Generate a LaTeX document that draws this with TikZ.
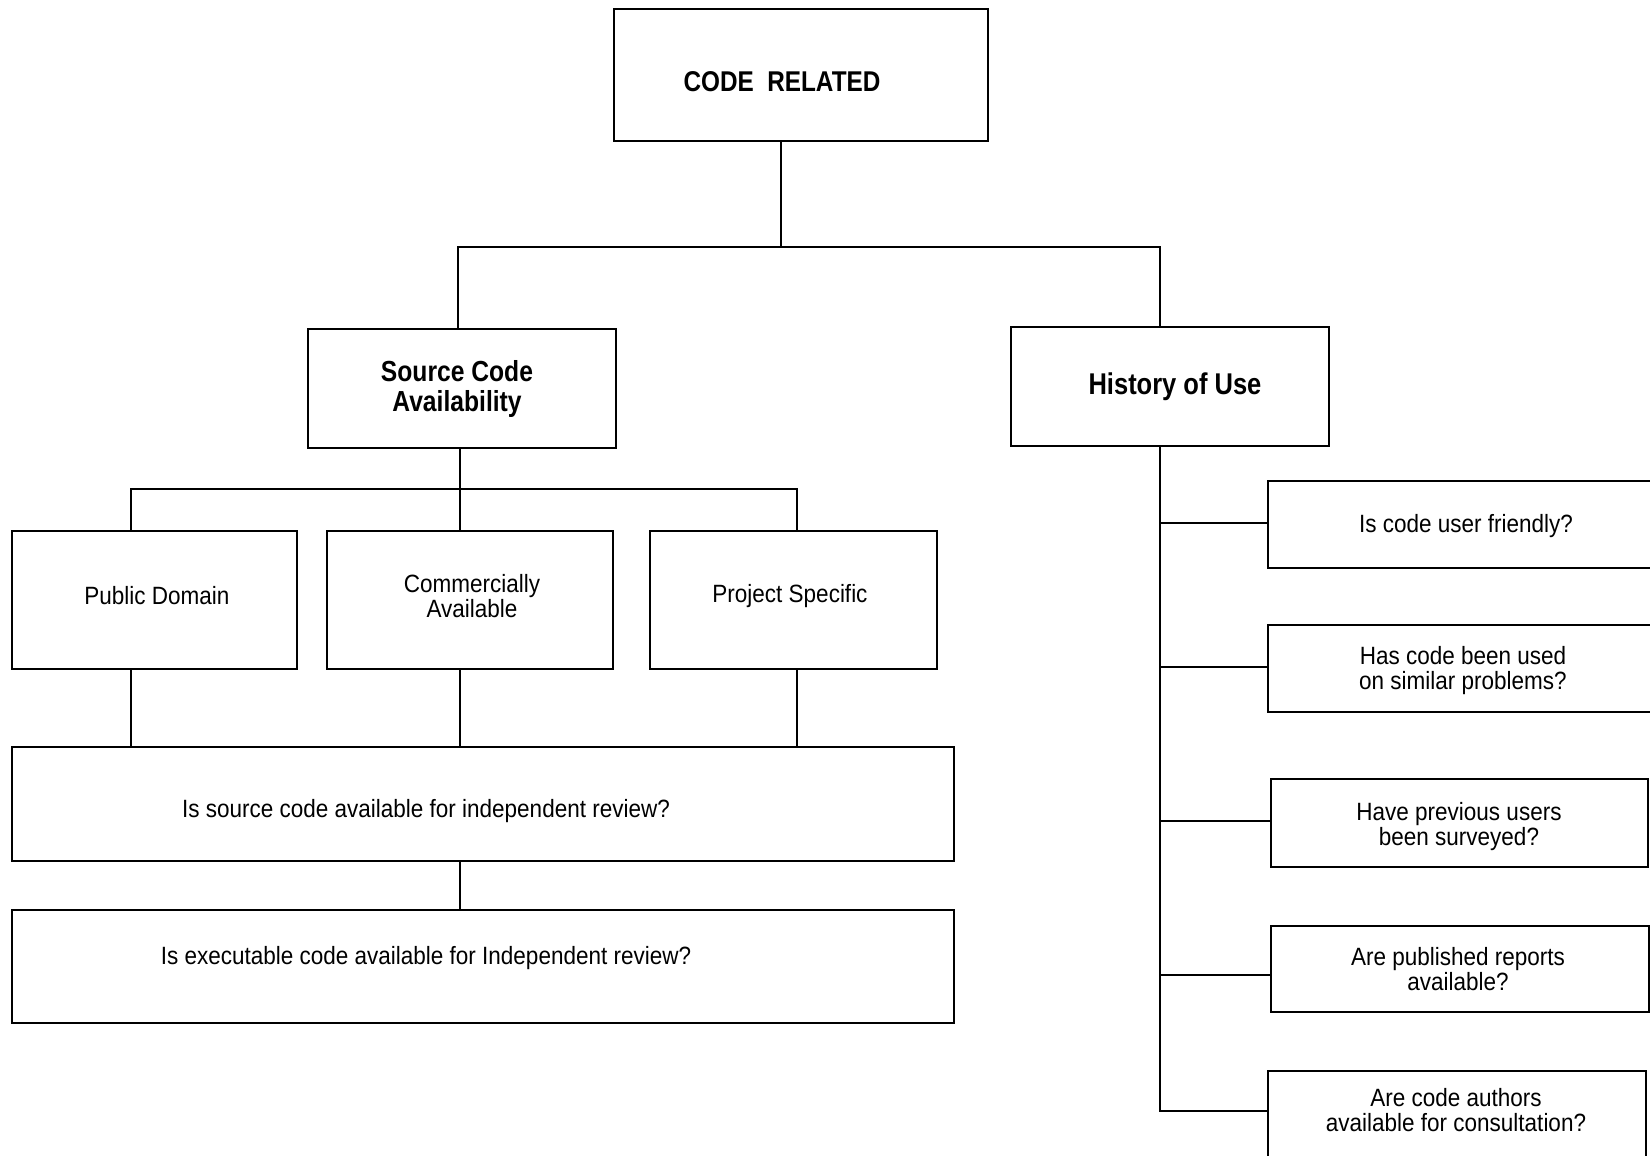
\documentclass[tikz,border=0pt]{standalone}
\usepackage{fontspec}
\setmainfont{Liberation Sans}[FakeStretch=0.9]
\newfontfamily\hdfont{Liberation Sans}[FakeStretch=0.85]
\usetikzlibrary{fit}
\begin{document}
\begin{tikzpicture}[x=0.5pt,y=-0.5pt,
  box/.style={draw=black, line width=1pt, inner sep=0pt, outer sep=0pt, rectangle},
  conn/.style={draw=black, line width=0.75pt},
  hd/.style={inner sep=0pt, align=center, font=\hdfont\bfseries},
  txt/.style={inner sep=0pt, align=center, font=\fontsize{12.5}{12.5}\selectfont}]
\useasboundingbox (0,0) rectangle (1650,1156);

% boxes
\node[box, fit={(614,9) (988,141)}] (code) {};
\node[box, fit={(308,329) (616,448)}] (src) {};
\node[box, fit={(1011,327) (1329,446)}] (hist) {};
\node[box, fit={(12,531) (297,669)}] (pd) {};
\node[box, fit={(327,531) (613,669)}] (ca) {};
\node[box, fit={(650,531) (937,669)}] (ps) {};
\node[box, fit={(12,747) (954,861)}] (q1) {};
\node[box, fit={(12,910) (954,1023)}] (q2) {};
\node[box, fit={(1268,481) (1656,568)}] (r1) {};
\node[box, fit={(1268,625) (1656,712)}] (r2) {};
\node[box, fit={(1271,779) (1648,867)}] (r3) {};
\node[box, fit={(1271,926) (1649,1012)}] (r4) {};
\node[box, fit={(1268,1071) (1646,1180)}] (r5) {};

% texts
\node[hd, font=\hdfont\bfseries\fontsize{14.3}{14.3}\selectfont] (codeT) at (782,82) {CODE\ \ RELATED};
\node[hd, font=\hdfont\bfseries\fontsize{14.5}{15}\selectfont] (srcT) at (457,389) {Source Code\\Availability};
\node[hd, font=\hdfont\bfseries\fontsize{15}{15}\selectfont] (histT) at (1175,387) {History of Use};
\node[txt] (pdT) at (157,596) {Public Domain};
\node[txt] (caT) at (472,596) {Commercially\\Available};
\node[txt] (psT) at (790,596) {Project Specific};
\node[txt] (q1T) at (426,811) {Is source code available for independent review?};
\node[txt] (q2T) at (426,958) {Is executable code available for Independent review?};
\node[txt] (r1T) at (1466,526) {Is code user friendly?};
\node[txt] (r2T) at (1463,671) {Has code been used\\on similar problems?};
\node[txt] (r3T) at (1459,827) {Have previous users\\been surveyed?};
\node[txt] (r4T) at (1458,969) {Are published reports\\available?};
\node[txt] (r5T) at (1456,1110) {Are code authors\\available for consultation?};

% junction coordinates
\coordinate (j0) at (781,247);
\coordinate (jl) at (458,247);
\coordinate (jr) at (1160,247);
\coordinate (s0) at (460,489);
\coordinate (sl) at (131,489);
\coordinate (sr) at (797,489);
\coordinate (hend) at (1160,1111);
\coordinate (h1) at (1160,523);
\coordinate (h2) at (1160,667);
\coordinate (h3) at (1160,821);
\coordinate (h4) at (1160,975);

% connectors
\draw[conn] (j0 |- code.south) -- (j0);
\draw[conn] (jl |- src.north) -- (jl) -- (jr) -- (jr |- hist.north);
\draw[conn] (s0 |- src.south) -- (s0);
\draw[conn] (sl |- pd.north) -- (sl) -- (sr) -- (sr |- ps.north);
\draw[conn] (s0) -- (s0 |- ca.north);
\draw[conn] (sl |- pd.south) -- (sl |- q1.north);
\draw[conn] (s0 |- ca.south) -- (s0 |- q1.north);
\draw[conn] (sr |- ps.south) -- (sr |- q1.north);
\draw[conn] (s0 |- q1.south) -- (s0 |- q2.north);
\draw[conn] (jr |- hist.south) -- (hend) -- (hend -| r5.west);
\draw[conn] (h1) -- (h1 -| r1.west);
\draw[conn] (h2) -- (h2 -| r2.west);
\draw[conn] (h3) -- (h3 -| r3.west);
\draw[conn] (h4) -- (h4 -| r4.west);
\end{tikzpicture}
\end{document}
